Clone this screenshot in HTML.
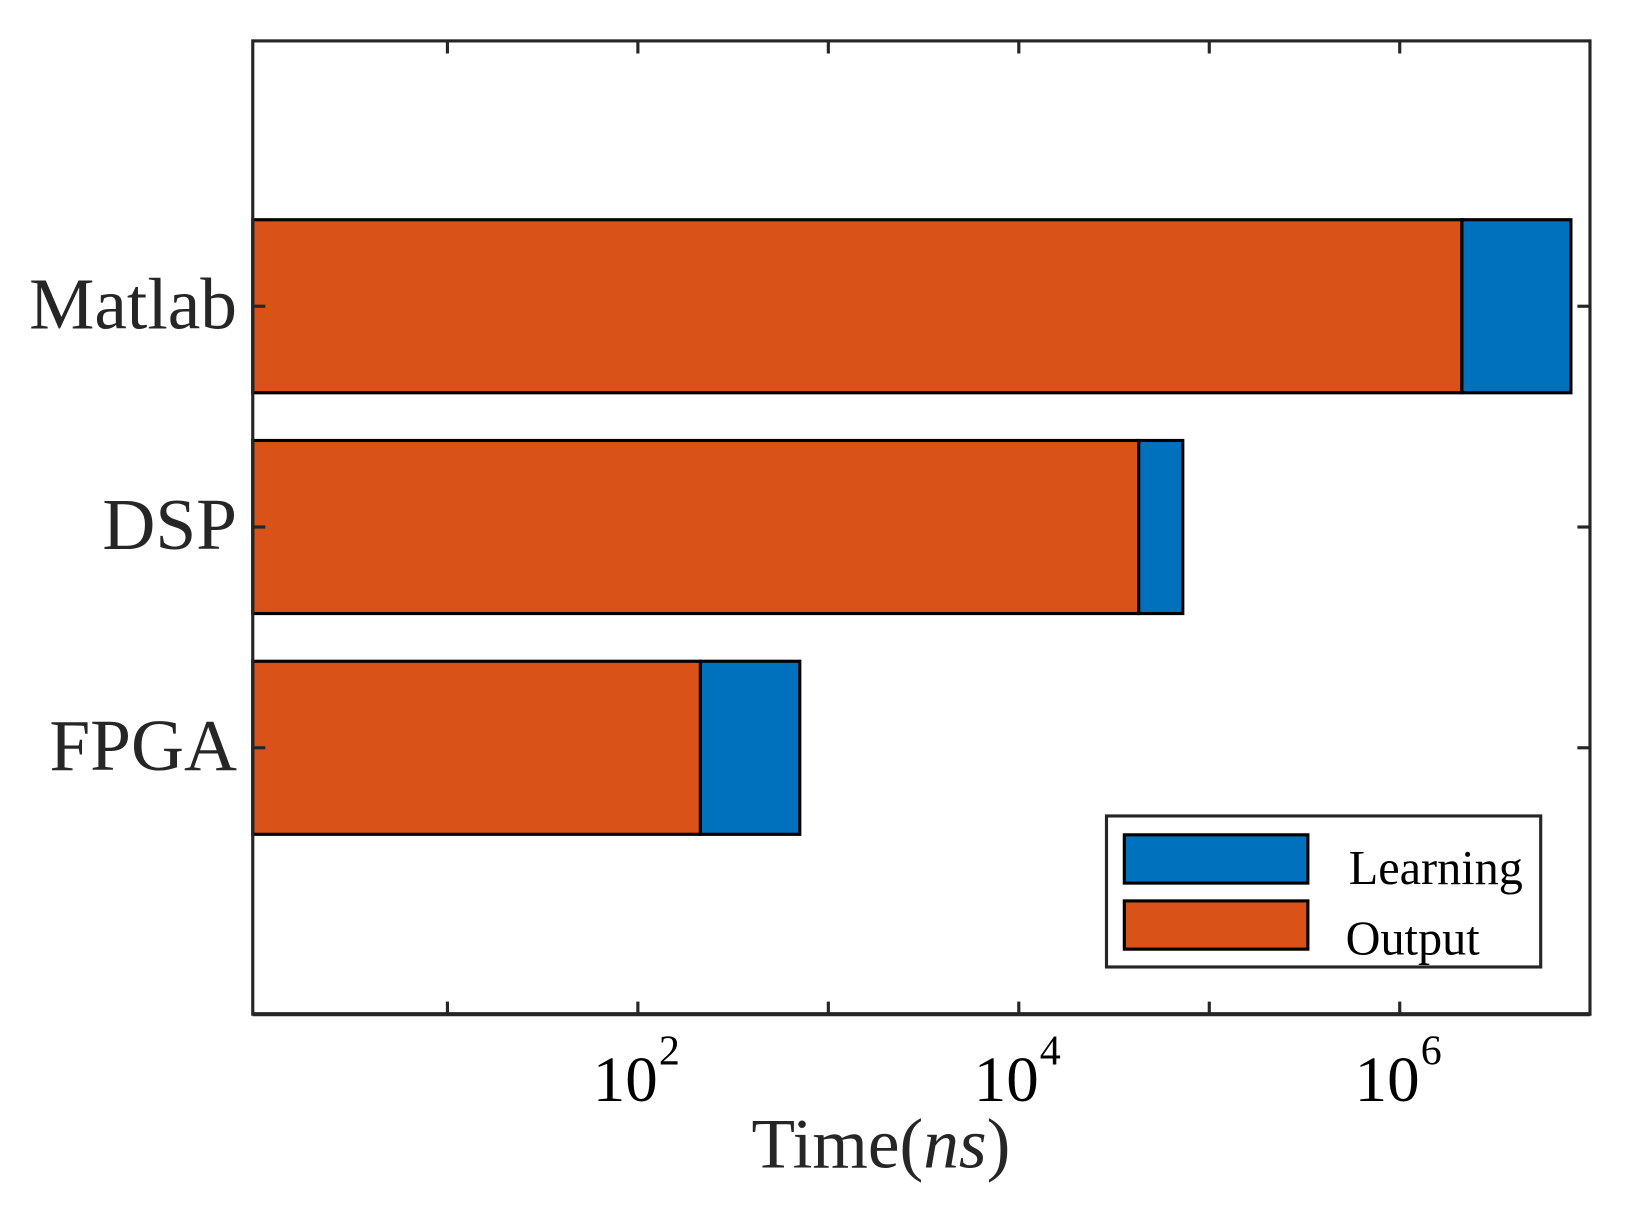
<!DOCTYPE html>
<html><head><meta charset="utf-8"><style>html,body{margin:0;padding:0;background:#fff}svg{display:block}</style></head>
<body>
<svg id="chart" width="1644" height="1219" viewBox="0 0 1567.5 1162.3" preserveAspectRatio="none" xmlns="http://www.w3.org/2000/svg" font-family="Liberation Serif, serif">
<rect x="0" y="0" width="1567.5" height="1162.3" fill="#fff"/>
<g id="bars"></g>
<g id="axes"></g>
<g>
<rect x="1055" y="778" width="414" height="144" fill="#fff" stroke="#262626" stroke-width="3"/>
<rect x="1072" y="796" width="175" height="46" fill="#0072BD" stroke="#000" stroke-width="3"/>
<text x="1286" y="843" font-size="46" fill="#000">Learning</text>
<rect x="1072" y="859" width="175" height="46" fill="#D95319" stroke="#000" stroke-width="3"/>
<text x="1283" y="910" font-size="46" fill="#000">Output</text>
</g>
<text x="840" y="1113" font-size="68" text-anchor="middle" fill="#262626">Time(<tspan font-style="italic">ns</tspan>)</text>
</svg>
<script>
const categories = ["Matlab", "DSP", "FPGA"];
const outputValues = [2.12e6, 4.26e4, 213];
const learningValues = [5.8e6, 3.0e4, 495];
const xTickExponents = [1, 2, 3, 4, 5, 6];
const xLabelExponents = [2, 4, 6];

const NS = "http://www.w3.org/2000/svg";
const L = 241, R = 1516, T = 39, B = 967;
const X0 = 245, DEC = 181.6;
function xScale(v) { return X0 + Math.log10(v) * DEC; }
function yCenter(i) { return 292 + i * 210.5; }
const barH = 165;
function mk(tag, attrs, parent) { const e = document.createElementNS(NS, tag); for (const k in attrs) e.setAttribute(k, attrs[k]); parent.appendChild(e); return e; }
const bars = document.getElementById('bars');
const axes = document.getElementById('axes');
categories.forEach((c, i) => {
  const yc = yCenter(i);
  const x0 = L, x1 = xScale(outputValues[i]), x2 = xScale(outputValues[i] + learningValues[i]);
  const o = mk('rect', {x: x0, y: yc - barH / 2, width: x1 - x0, height: barH, fill: '#D95319', stroke: '#000', 'stroke-width': 3}, bars);
  
  
  const l = mk('rect', {x: x1, y: yc - barH / 2, width: x2 - x1, height: barH, fill: '#0072BD', stroke: '#000', 'stroke-width': 3}, bars);
  
  
  const t = mk('text', {x: 226, y: yc + 21, 'font-size': 70, 'text-anchor': 'end', fill: '#262626'}, axes);
  t.textContent = c;
  
  
  mk('line', {x1: L, x2: L + 12, y1: yc, y2: yc, stroke: '#262626', 'stroke-width': 3}, axes);
  mk('line', {x1: R, x2: R - 12, y1: yc, y2: yc, stroke: '#262626', 'stroke-width': 3}, axes);
});
xTickExponents.forEach(e => {
  const x = xScale(Math.pow(10, e));
  mk('line', {x1: x, x2: x, y1: B, y2: B - 12, stroke: '#262626', 'stroke-width': 3}, axes);
  mk('line', {x1: x, x2: x, y1: T, y2: T + 12, stroke: '#262626', 'stroke-width': 3}, axes);
});
xLabelExponents.forEach(e => {
  const x = xScale(Math.pow(10, e));
  const t = mk('text', {x: x - 12, y: 1050, 'font-size': 62, 'text-anchor': 'middle', fill: '#000'}, axes);
  t.textContent = '10';
  
  
  const s = mk('text', {x: x + 20, y: 1015, 'font-size': 40, 'text-anchor': 'start', fill: '#000'}, axes);
  s.textContent = String(e);
  
  
});
mk('rect', {x: L, y: T, width: R - L, height: B - T, fill: 'none', stroke: '#262626', 'stroke-width': 3}, axes);
mk('line', {x1: L, x2: R, y1: B, y2: B, stroke: '#262626', 'stroke-width': 4}, axes);
</script>
</body></html>
